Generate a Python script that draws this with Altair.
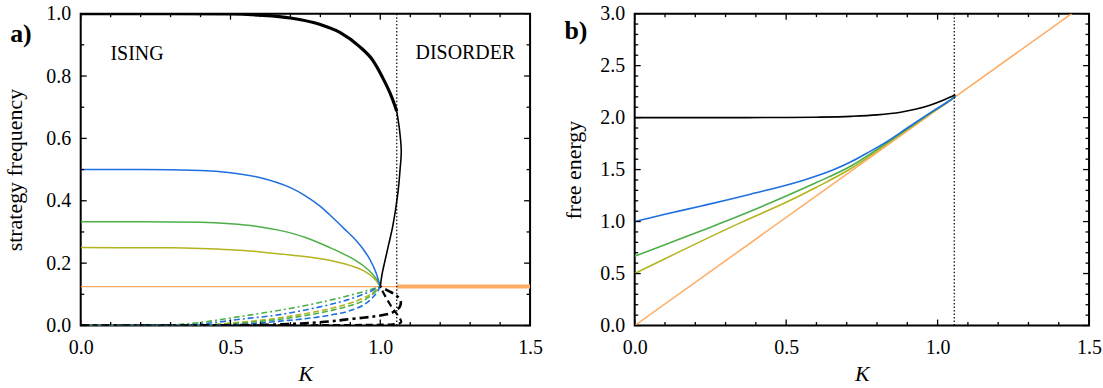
import altair as alt
import pandas as pd

# ---------------- panel a) : strategy frequency ----------------
# majority branch of the single-strategy (Ising) state, stable part
K_A_BLACK = [0.0, 0.3, 0.5, 0.6, 0.7, 0.8, 0.865, 0.93, 0.975, 1.005, 1.04, 1.055]
F_A_BLACK = [1.0, 1.0, 0.999, 0.995, 0.986, 0.965, 0.94, 0.895, 0.85, 0.8, 0.728, 0.687]
# unstable continuation back to the symmetric point
K_A_BLACK_U = [1.055, 1.064, 1.07, 1.066, 1.059, 1.042, 1.028, 1.015, 1.006, 1.0]
F_A_BLACK_U = [0.687, 0.629, 0.56, 0.50, 0.427, 0.32, 0.26, 0.205, 0.165, 0.125]
# two / three / four dominant strategies
K_A_BLUE = [0.0, 0.2, 0.4, 0.5, 0.6, 0.7, 0.75, 0.8, 0.831, 0.88, 0.92, 0.942, 0.964, 0.987, 1.0]
F_A_BLUE = [0.5, 0.5, 0.497, 0.49, 0.474, 0.442, 0.416, 0.382, 0.355, 0.31, 0.272, 0.246, 0.214, 0.166, 0.125]
K_A_GREEN = [0.0, 0.2, 0.4, 0.5, 0.6, 0.7, 0.75, 0.831, 0.88, 0.92, 0.95, 0.974, 0.99, 1.0]
F_A_GREEN = [0.333, 0.333, 0.331, 0.326, 0.316, 0.297, 0.282, 0.25, 0.228, 0.207, 0.187, 0.165, 0.145, 0.125]
K_A_YELLOW = [0.0, 0.3, 0.4, 0.5, 0.6, 0.7, 0.831, 0.9, 0.942, 0.965, 0.987, 1.0]
F_A_YELLOW = [0.25, 0.249, 0.247, 0.243, 0.236, 0.226, 0.209, 0.192, 0.177, 0.163, 0.143, 0.125]
# fully mixed (disordered) state
K_A_ORANGE_THIN = [0.0, 1.055]
F_A_ORANGE_THIN = [0.125, 0.125]
K_A_ORANGE_THICK = [1.055, 1.5]
F_A_ORANGE_THICK = [0.125, 0.125]
# minority strategies
K_A_GREEN_DD = [0.0, 0.3, 0.4, 0.5, 0.6, 0.665, 0.75, 0.831, 0.9, 0.942, 0.97, 1.0]
F_A_GREEN_DD = [0.0, 0.002, 0.01, 0.024, 0.039, 0.049, 0.064, 0.081, 0.097, 0.108, 0.116, 0.125]
K_A_BLUE_DD = [0.0, 0.35, 0.45, 0.532, 0.665, 0.75, 0.831, 0.9, 0.942, 0.97, 1.0]
F_A_BLUE_DD = [0.0, 0.002, 0.01, 0.02, 0.035, 0.05, 0.067, 0.085, 0.1, 0.111, 0.125]
K_A_YELLOW_D = [0.0, 0.4, 0.5, 0.6, 0.665, 0.75, 0.831, 0.9, 0.942, 0.97, 1.0]
F_A_YELLOW_D = [0.0, 0.002, 0.008, 0.017, 0.025, 0.038, 0.054, 0.072, 0.087, 0.102, 0.125]
K_A_GREEN_D = [0.0, 0.45, 0.55, 0.665, 0.75, 0.831, 0.9, 0.942, 0.97, 1.0]
F_A_GREEN_D = [0.0, 0.002, 0.009, 0.02, 0.032, 0.047, 0.064, 0.079, 0.097, 0.125]
K_A_BLUE_D = [0.0, 0.5, 0.6, 0.665, 0.75, 0.831, 0.9, 0.942, 0.97, 0.99, 1.0]
F_A_BLUE_D = [0.0, 0.002, 0.008, 0.014, 0.022, 0.033, 0.048, 0.065, 0.085, 0.108, 0.125]
K_A_BLACK_DD = [0.0, 0.3, 0.5, 0.6, 0.7, 0.76, 0.831, 0.876, 0.942, 0.987, 1.03, 1.055, 1.066, 1.068, 1.053, 1.025, 1.0]
F_A_BLACK_DD = [0.0, 0.0, 0.001, 0.002, 0.005, 0.008, 0.013, 0.018, 0.025, 0.03, 0.038, 0.05, 0.062, 0.077, 0.097, 0.112, 0.125]
K_A_BLACK_D = [0.0, 0.5, 0.8, 0.95, 1.04, 1.065, 1.07, 1.058, 1.037, 1.008, 1.0]
F_A_BLACK_D = [0.0, 0.0, 0.001, 0.002, 0.004, 0.007, 0.012, 0.033, 0.061, 0.109, 0.125]

# ---------------- panel b) : free energy ----------------
K_B_BLACK = [0.0, 0.22, 0.5, 0.6, 0.714, 0.8, 0.878, 0.93, 0.977, 1.02, 1.059]
F_B_BLACK = [2.0, 2.0, 2.001, 2.004, 2.012, 2.026, 2.052, 2.082, 2.122, 2.17, 2.22]
K_B_BLUE = [0.0, 0.1, 0.22, 0.308, 0.385, 0.549, 0.658, 0.714, 0.768, 0.823, 0.9, 0.988, 1.03, 1.059]
F_B_BLUE = [1.0, 1.07, 1.15, 1.21, 1.265, 1.39, 1.5, 1.575, 1.66, 1.752, 1.9, 2.07, 2.145, 2.205]
K_B_GREEN = [0.0, 0.1, 0.22, 0.35, 0.5, 0.6, 0.714, 0.823, 0.9, 0.988, 1.03, 1.059]
F_B_GREEN = [0.667, 0.778, 0.912, 1.06, 1.245, 1.375, 1.535, 1.74, 1.893, 2.066, 2.143, 2.203]
K_B_YELLOW = [0.0, 0.1, 0.22, 0.35, 0.5, 0.6, 0.714, 0.823, 0.9, 0.988, 1.03, 1.059]
F_B_YELLOW = [0.5, 0.642, 0.812, 0.99, 1.185, 1.33, 1.51, 1.728, 1.886, 2.063, 2.142, 2.202]
K_B_ORANGE = [0.0, 1.443]
F_B_ORANGE = [0.0, 3.0]

K_CRIT = [1.055]

# ---------------- tick positions ----------------
X_MAJOR = [0.0, 0.5, 1.0, 1.5]
X_MINOR = [0.1, 0.2, 0.3, 0.4, 0.6, 0.7, 0.8, 0.9, 1.1, 1.2, 1.3, 1.4]
YA_MAJOR = [0.0, 0.2, 0.4, 0.6, 0.8, 1.0]
YA_MINOR = [0.1, 0.3, 0.5, 0.7, 0.9]
YB_MAJOR = [0.0, 0.5, 1.0, 1.5, 2.0, 2.5, 3.0]
YB_MINOR = [0.1, 0.2, 0.3, 0.4, 0.6, 0.7, 0.8, 0.9, 1.1, 1.2, 1.3, 1.4,
            1.6, 1.7, 1.8, 1.9, 2.1, 2.2, 2.3, 2.4, 2.6, 2.7, 2.8, 2.9]

BLUE = "#1f6fe0"
GREEN = "#4caf4a"
YELLOW = "#b4b41e"
ORANGE = "#ffab63"
FONT = "Liberation Serif"

W_A, W_B, H = 451, 456, 313


class Panel:
    """Shared scales/axes for all layers of one panel."""

    def __init__(self, ydom, yvals, ytitle, ytitle_pad):
        common = dict(format=".1f", ticks=False, domain=False, grid=False,
                      labelFlush=False, labelOverlap=False,
                      labelFont=FONT, labelFontSize=20, labelColor="black",
                      titleFont=FONT, titleFontSize=22, titleFontWeight="normal",
                      titleColor="black")
        self.x = alt.X("K:Q", scale=alt.Scale(domain=[0, 1.5], nice=False, zero=False),
                       axis=alt.Axis(values=X_MAJOR, title="K", titleFontStyle="italic",
                                     labelPadding=12, titlePadding=6, **common))
        self.y = alt.Y("v:Q", scale=alt.Scale(domain=ydom, nice=False, zero=False),
                       axis=alt.Axis(values=yvals, title=ytitle,
                                     labelPadding=10, titlePadding=ytitle_pad, **common))

    def curve(self, k, v, color, width, dash=None, interp="monotone"):
        df = pd.DataFrame({"K": k, "v": v, "i": list(range(len(k)))})
        kw = dict(color=color, strokeWidth=width, interpolate=interp, clip=True)
        if dash:
            kw["strokeDash"] = dash
        return alt.Chart(df).mark_line(**kw).encode(x=self.x, y=self.y, order="i:Q")

    def ticks(self, w, h, ymaj, ymin):
        layers = []
        for vals, ln in ((X_MAJOR, 6), (X_MINOR, 3.5)):
            d = pd.DataFrame({"K": vals})
            layers.append(alt.Chart(d).mark_rule(color="black", strokeWidth=1.3).encode(
                x=self.x, y=alt.value(h), y2=alt.value(h - ln)))
            layers.append(alt.Chart(d).mark_rule(color="black", strokeWidth=1.3).encode(
                x=self.x, y=alt.value(0), y2=alt.value(ln)))
        for vals, ln in ((ymaj, 6), (ymin, 3.5)):
            d = pd.DataFrame({"v": vals})
            layers.append(alt.Chart(d).mark_rule(color="black", strokeWidth=1.3).encode(
                y=self.y, x=alt.value(0), x2=alt.value(ln)))
            layers.append(alt.Chart(d).mark_rule(color="black", strokeWidth=1.3).encode(
                y=self.y, x=alt.value(w), x2=alt.value(w - ln)))
        return layers

    def crit(self, h):
        return alt.Chart(pd.DataFrame({"K": K_CRIT})).mark_rule(
            color="black", strokeWidth=1.2, strokeDash=[1.5, 2]).encode(
            x=self.x, y=alt.value(0), y2=alt.value(h))


# ----- panel a -----
pa = Panel([0, 1], YA_MAJOR, "strategy frequency", 19)
a_layers = [
    pa.curve(K_A_ORANGE_THIN, F_A_ORANGE_THIN, ORANGE, 1.3),
    pa.curve(K_A_ORANGE_THICK, F_A_ORANGE_THICK, ORANGE, 4),
    pa.curve(K_A_GREEN_DD, F_A_GREEN_DD, GREEN, 1.6, dash=[6, 3, 2, 3]),
    pa.curve(K_A_BLUE_DD, F_A_BLUE_DD, BLUE, 1.6, dash=[6, 3, 2, 3]),
    pa.curve(K_A_YELLOW_D, F_A_YELLOW_D, YELLOW, 1.6, dash=[6, 3]),
    pa.curve(K_A_GREEN_D, F_A_GREEN_D, GREEN, 1.6, dash=[6, 3]),
    pa.curve(K_A_BLUE_D, F_A_BLUE_D, BLUE, 1.6, dash=[6, 3]),
    pa.curve(K_A_BLACK_D, F_A_BLACK_D, "black", 2.2, dash=[7, 4], interp="catmull-rom"),
    pa.curve(K_A_BLACK_DD, F_A_BLACK_DD, "black", 2.6, dash=[9, 4, 3, 4], interp="catmull-rom"),
    pa.curve(K_A_YELLOW, F_A_YELLOW, YELLOW, 1.5),
    pa.curve(K_A_GREEN, F_A_GREEN, GREEN, 1.5),
    pa.curve(K_A_BLUE, F_A_BLUE, BLUE, 1.5),
    pa.curve(K_A_BLACK_U, F_A_BLACK_U, "black", 1.6, interp="catmull-rom"),
    pa.curve(K_A_BLACK, F_A_BLACK, "black", 3.2),
    pa.crit(H),
]
a_layers += pa.ticks(W_A, H, YA_MAJOR, YA_MINOR)
phase_txt = alt.Chart(pd.DataFrame({"K": [0.188, 1.284], "v": [0.872, 0.875],
                                    "t": ["ISING", "DISORDER"]})).mark_text(
    font=FONT, fontSize=20, color="black").encode(x=pa.x, y=pa.y, text="t:N")
a_tag = alt.Chart(pd.DataFrame({"t": ["a)"]})).mark_text(
    font=FONT, fontSize=26, fontWeight="bold", color="black").encode(
    x=alt.value(-60), y=alt.value(20), text="t:N")
panel_a = alt.layer(*a_layers, phase_txt, a_tag).properties(width=W_A, height=H)

# ----- panel b -----
pb = Panel([0, 3], YB_MAJOR, "free energy", 14)
b_layers = [
    pb.curve(K_B_ORANGE, F_B_ORANGE, ORANGE, 1.5),
    pb.curve(K_B_YELLOW, F_B_YELLOW, YELLOW, 1.6),
    pb.curve(K_B_GREEN, F_B_GREEN, GREEN, 1.6),
    pb.curve(K_B_BLUE, F_B_BLUE, BLUE, 1.6),
    pb.curve(K_B_BLACK, F_B_BLACK, "black", 1.6),
    pb.crit(H),
]
b_layers += pb.ticks(W_B, H, YB_MAJOR, YB_MINOR)
b_tag = alt.Chart(pd.DataFrame({"t": ["b)"]})).mark_text(
    font=FONT, fontSize=26, fontWeight="bold", color="black").encode(
    x=alt.value(-59), y=alt.value(17), text="t:N")
panel_b = alt.layer(*b_layers, b_tag).properties(width=W_B, height=H)

chart = alt.hconcat(panel_a, panel_b, spacing=18).properties(
    padding={"left": 3, "top": 2, "right": 0, "bottom": 0}
).configure_view(stroke="black", strokeWidth=2)

chart.save("out.html", embed_options={"renderer": "svg", "actions": False})
